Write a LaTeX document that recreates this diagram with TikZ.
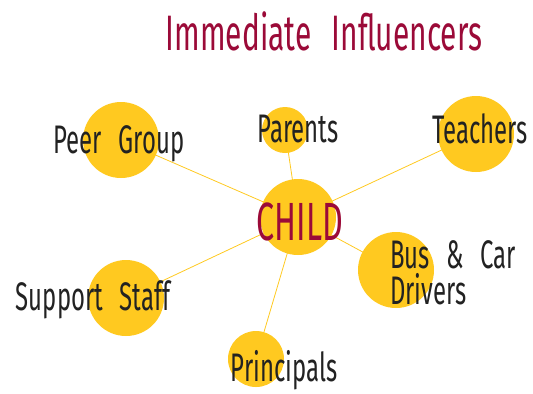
\documentclass[tikz,border=0pt]{standalone}
\usepackage{fontspec}
\usepackage{xcolor}
\usepackage{tikz}
\usetikzlibrary{positioning, backgrounds}
\newfontfamily\handfont[FakeStretch=0.6, WordSpace=2.6]{Fira Sans}
\definecolor{bubbleyellow}{HTML}{FFC920}
\definecolor{titlered}{HTML}{9B0A38}
\definecolor{inkgray}{HTML}{222222}
\tikzset{
    bubble/.style={
        circle,
        fill=bubbleyellow,
        inner sep=0pt,
        minimum size=76bp
    },
    word/.style={
        font=\handfont\fontsize{40}{33}\selectfont,
        text=inkgray,
        inner sep=0pt,
        anchor=base
    },
    link/.style={
        draw=bubbleyellow,
        line width=0.8pt
    }
}
\begin{document}
\begin{tikzpicture}[x=1bp, y=-1bp]

\useasboundingbox (0,0) rectangle (533,393);

\node[word, font=\handfont\fontsize{50}{50}\selectfont, text=titlered] (title) at (324,50) {Immediate Influencers};

\node[bubble] (child) at (298,217) {};
\node[bubble] (peer) at (121,140) {};
\node[bubble, minimum size=46bp] (parents) at (285,130) {};
\node[bubble] (teachers) at (476,134) {};
\node[bubble] (bus) at (396,270) {};
\node[bubble] (support) at (126,298) {};
\node[bubble, minimum size=56bp] (principals) at (256,359) {};

\begin{scope}[on background layer]
\draw[link] (child.center) -- (peer.center);
\draw[link] (child.center) -- (parents.center);
\draw[link] (child.center) -- (teachers.center);
\draw[link] (child.center) -- (bus.center);
\draw[link] (child.center) -- (support.center);
\draw[link] (child.center) -- (principals.center);
\end{scope}

\node[word, font=\handfont\fontsize{54}{54}\selectfont, text=titlered] (childtext) at (300,240) {CHILD};
\node[word] (peertext) at (119,153) {Peer Group};
\node[word] (parentstext) at (298,142) {Parents};
\node[word] (teacherstext) at (480,143) {Teachers};
\node[word, anchor=base west] (bustext) at (390,268) {Bus \& Car};
\node[word, anchor=base west] (driverstext) at (390,304) {Drivers};
\node[word] (supporttext) at (93,310) {Support Staff};
\node[word] (principalstext) at (284,381) {Principals};

\end{tikzpicture}
\end{document}
